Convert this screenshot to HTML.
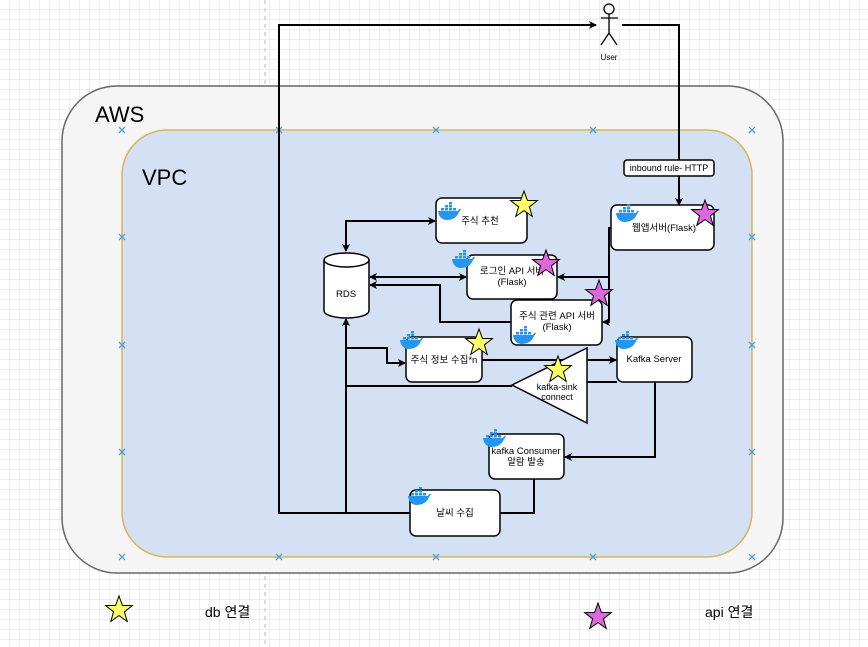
<!DOCTYPE html>
<html><head><meta charset="utf-8"><style>
html,body{margin:0;padding:0;background:#fff}
svg{display:block}
text{font-family:"Liberation Sans","Noto Sans CJK KR",sans-serif;fill:#000}
</style></head><body>
<svg width="868" height="647" viewBox="0 0 868 647" xmlns="http://www.w3.org/2000/svg">
<defs>
<pattern id="g" width="10" height="10" patternUnits="userSpaceOnUse"><path d="M10 0V10M0 10H10" stroke="#dedede" stroke-width="1" fill="none"/></pattern>
<marker id="a" markerWidth="8" markerHeight="8" refX="7" refY="4" orient="auto" markerUnits="userSpaceOnUse"><path d="M0,0 L8,4 L0,8 L2,4z" fill="#000"/></marker>
<marker id="as" markerWidth="8" markerHeight="8" refX="1" refY="4" orient="auto" markerUnits="userSpaceOnUse"><path d="M8,0 L0,4 L8,8 L6,4z" fill="#000"/></marker>
<g id="dk"><path d="M0,7 H20 Q21,4 23,5 Q22,7 21,8 Q18,16 8,16 Q1,15 0,7z" fill="#2496ed"/>
<rect x="3" y="4" width="3" height="2.5" fill="#2496ed"/><rect x="7" y="4" width="3" height="2.5" fill="#2496ed"/><rect x="11" y="4" width="3" height="2.5" fill="#2496ed"/><rect x="7" y="1" width="3" height="2.5" fill="#2496ed"/><rect x="11" y="1" width="3" height="2.5" fill="#2496ed"/><rect x="11" y="-2" width="3" height="2.5" fill="#2496ed"/><rect x="15" y="4" width="3" height="2.5" fill="#2496ed"/></g>
<polygon id="st" points="0,-14 3.4,-4.6 13.4,-4.4 5.4,1.8 8.2,11.4 0,5.6 -8.2,11.4 -5.4,1.8 -13.4,-4.4 -3.4,-4.6" stroke="#000" stroke-width="1"/>
<g id="x"><path d="M-3,-3L3,3M3,-3L-3,3" stroke="#4a9fe0" stroke-width="1.3"/></g>
</defs>
<rect width="868" height="647" fill="url(#g)"/>
<line x1="265" y1="0" x2="265" y2="647" stroke="#bbb" stroke-dasharray="4,4"/>
<rect x="62" y="86" width="721" height="487" rx="55" fill="#f5f5f5" stroke="#666" stroke-width="1.5"/>
<text x="95" y="122" font-size="22">AWS</text>
<rect x="122" y="130" width="630" height="427" rx="45" fill="#d4e1f5" stroke="#d6b656" stroke-width="1.5"/>
<text x="142" y="185" font-size="22">VPC</text>
<use href="#x" x="122" y="130"/><use href="#x" x="279" y="130"/><use href="#x" x="436" y="130"/><use href="#x" x="593" y="130"/><use href="#x" x="752" y="130"/>
<use href="#x" x="122" y="237"/><use href="#x" x="122" y="345"/><use href="#x" x="122" y="452"/><use href="#x" x="122" y="557"/>
<use href="#x" x="752" y="237"/><use href="#x" x="752" y="345"/><use href="#x" x="752" y="452"/><use href="#x" x="752" y="557"/>
<use href="#x" x="279" y="557"/><use href="#x" x="436" y="557"/><use href="#x" x="593" y="557"/>

<g fill="none" stroke="#000" stroke-width="2">
<path d="M410,513 H279 V25 H596" marker-end="url(#a)"/>
<path d="M622,25 H679 V205" marker-end="url(#a)"/>
<path d="M346,513 V319" marker-end="url(#a)"/>
<path d="M346,348 H387 V363 H405" marker-end="url(#a)"/>
<path d="M346,386 H512"/>
<path d="M587,382 H617"/>
<path d="M482,360 H616" marker-end="url(#a)"/>
<path d="M655,382 V457 H565" marker-end="url(#a)"/>
<path d="M534,479 V513 H500"/>
<path d="M346,251 V221 H435" marker-start="url(#as)" marker-end="url(#a)"/>
<path d="M370,277 H466" marker-start="url(#as)" marker-end="url(#a)"/>
<path d="M511,322 H440 V285 H370" marker-end="url(#a)"/>
<path d="M611,228 H609 V322 H603" marker-end="url(#a)"/>
<path d="M609,277 H558" marker-end="url(#a)"/>
</g>

<g stroke="#000" stroke-width="1.5" fill="#fff">
<rect x="436" y="198" width="91" height="45" rx="6"/>
<rect x="611" y="205" width="103" height="45" rx="6"/>
<rect x="467" y="255" width="90" height="44" rx="6"/>
<rect x="511" y="300" width="91" height="45" rx="6"/>
<rect x="406" y="337" width="76" height="45" rx="6"/>
<rect x="617" y="337" width="75" height="45" rx="6"/>
<rect x="489" y="434" width="75" height="45" rx="6"/>
<rect x="410" y="490" width="90" height="46" rx="6"/>
<path d="M324,260 A22.5,7 0 0 1 369,260 V311 A22.5,7 0 0 1 324,311z"/>
<path d="M324,260 A22.5,7 0 0 0 369,260" fill="none"/>
<polygon points="512,385 587,348 587,423"/>
<rect x="624" y="160" width="90" height="16" rx="3"/>
</g>

<g font-size="9.5" text-anchor="middle">
<text x="480" y="224">주식 추천</text>
<text x="664" y="231">웹앱서버(Flask)</text>
<text x="346" y="297">RDS</text>
<text x="512" y="274">로그인 API 서버</text><text x="512" y="285">(Flask)</text>
<text x="557" y="319">주식 관련 API 서버</text><text x="557" y="330">(Flask)</text>
<text x="444" y="363">주식 정보 수집*n</text>
<text x="654" y="362">Kafka Server</text>
<text x="557" y="390" font-size="9">kafka-sink</text><text x="557" y="400" font-size="9">connect</text>
<text x="526" y="454">kafka Consumer</text><text x="526" y="465">알람 발송</text>
<text x="455" y="516">날씨 수집</text>
<text x="669" y="171" font-size="9">inbound rule- HTTP</text>
<text x="609" y="60" font-size="8">User</text>
</g>

<g stroke="#000" stroke-width="1.3" fill="none">
<circle cx="609" cy="9" r="5" fill="#fff"/><path d="M609,14 V33 M601,18 H618 M609,33 L601,45 M609,33 L617,45"/>
</g>

<use href="#dk" x="438" y="204"/><use href="#dk" x="616" y="206"/><use href="#dk" x="452" y="252"/>
<use href="#dk" x="513" y="328"/><use href="#dk" x="400" y="333"/><use href="#dk" x="615" y="333"/>
<use href="#dk" x="483" y="431"/><use href="#dk" x="408" y="489"/>

<use href="#st" x="524" y="205" fill="#ffff66"/><use href="#st" x="479" y="343" fill="#ffff66"/><use href="#st" x="558" y="370" fill="#ffff66"/>
<use href="#st" x="705" y="214" fill="#e066e0"/><use href="#st" x="546" y="264" fill="#e066e0"/><use href="#st" x="599" y="294" fill="#e066e0"/>
<use href="#st" x="119" y="610" fill="#ffff66"/><use href="#st" x="598" y="617" fill="#e066e0"/>
<text x="205" y="617" font-size="14">db 연결</text>
<text x="705" y="617" font-size="14">api 연결</text>
</svg>
</body></html>
